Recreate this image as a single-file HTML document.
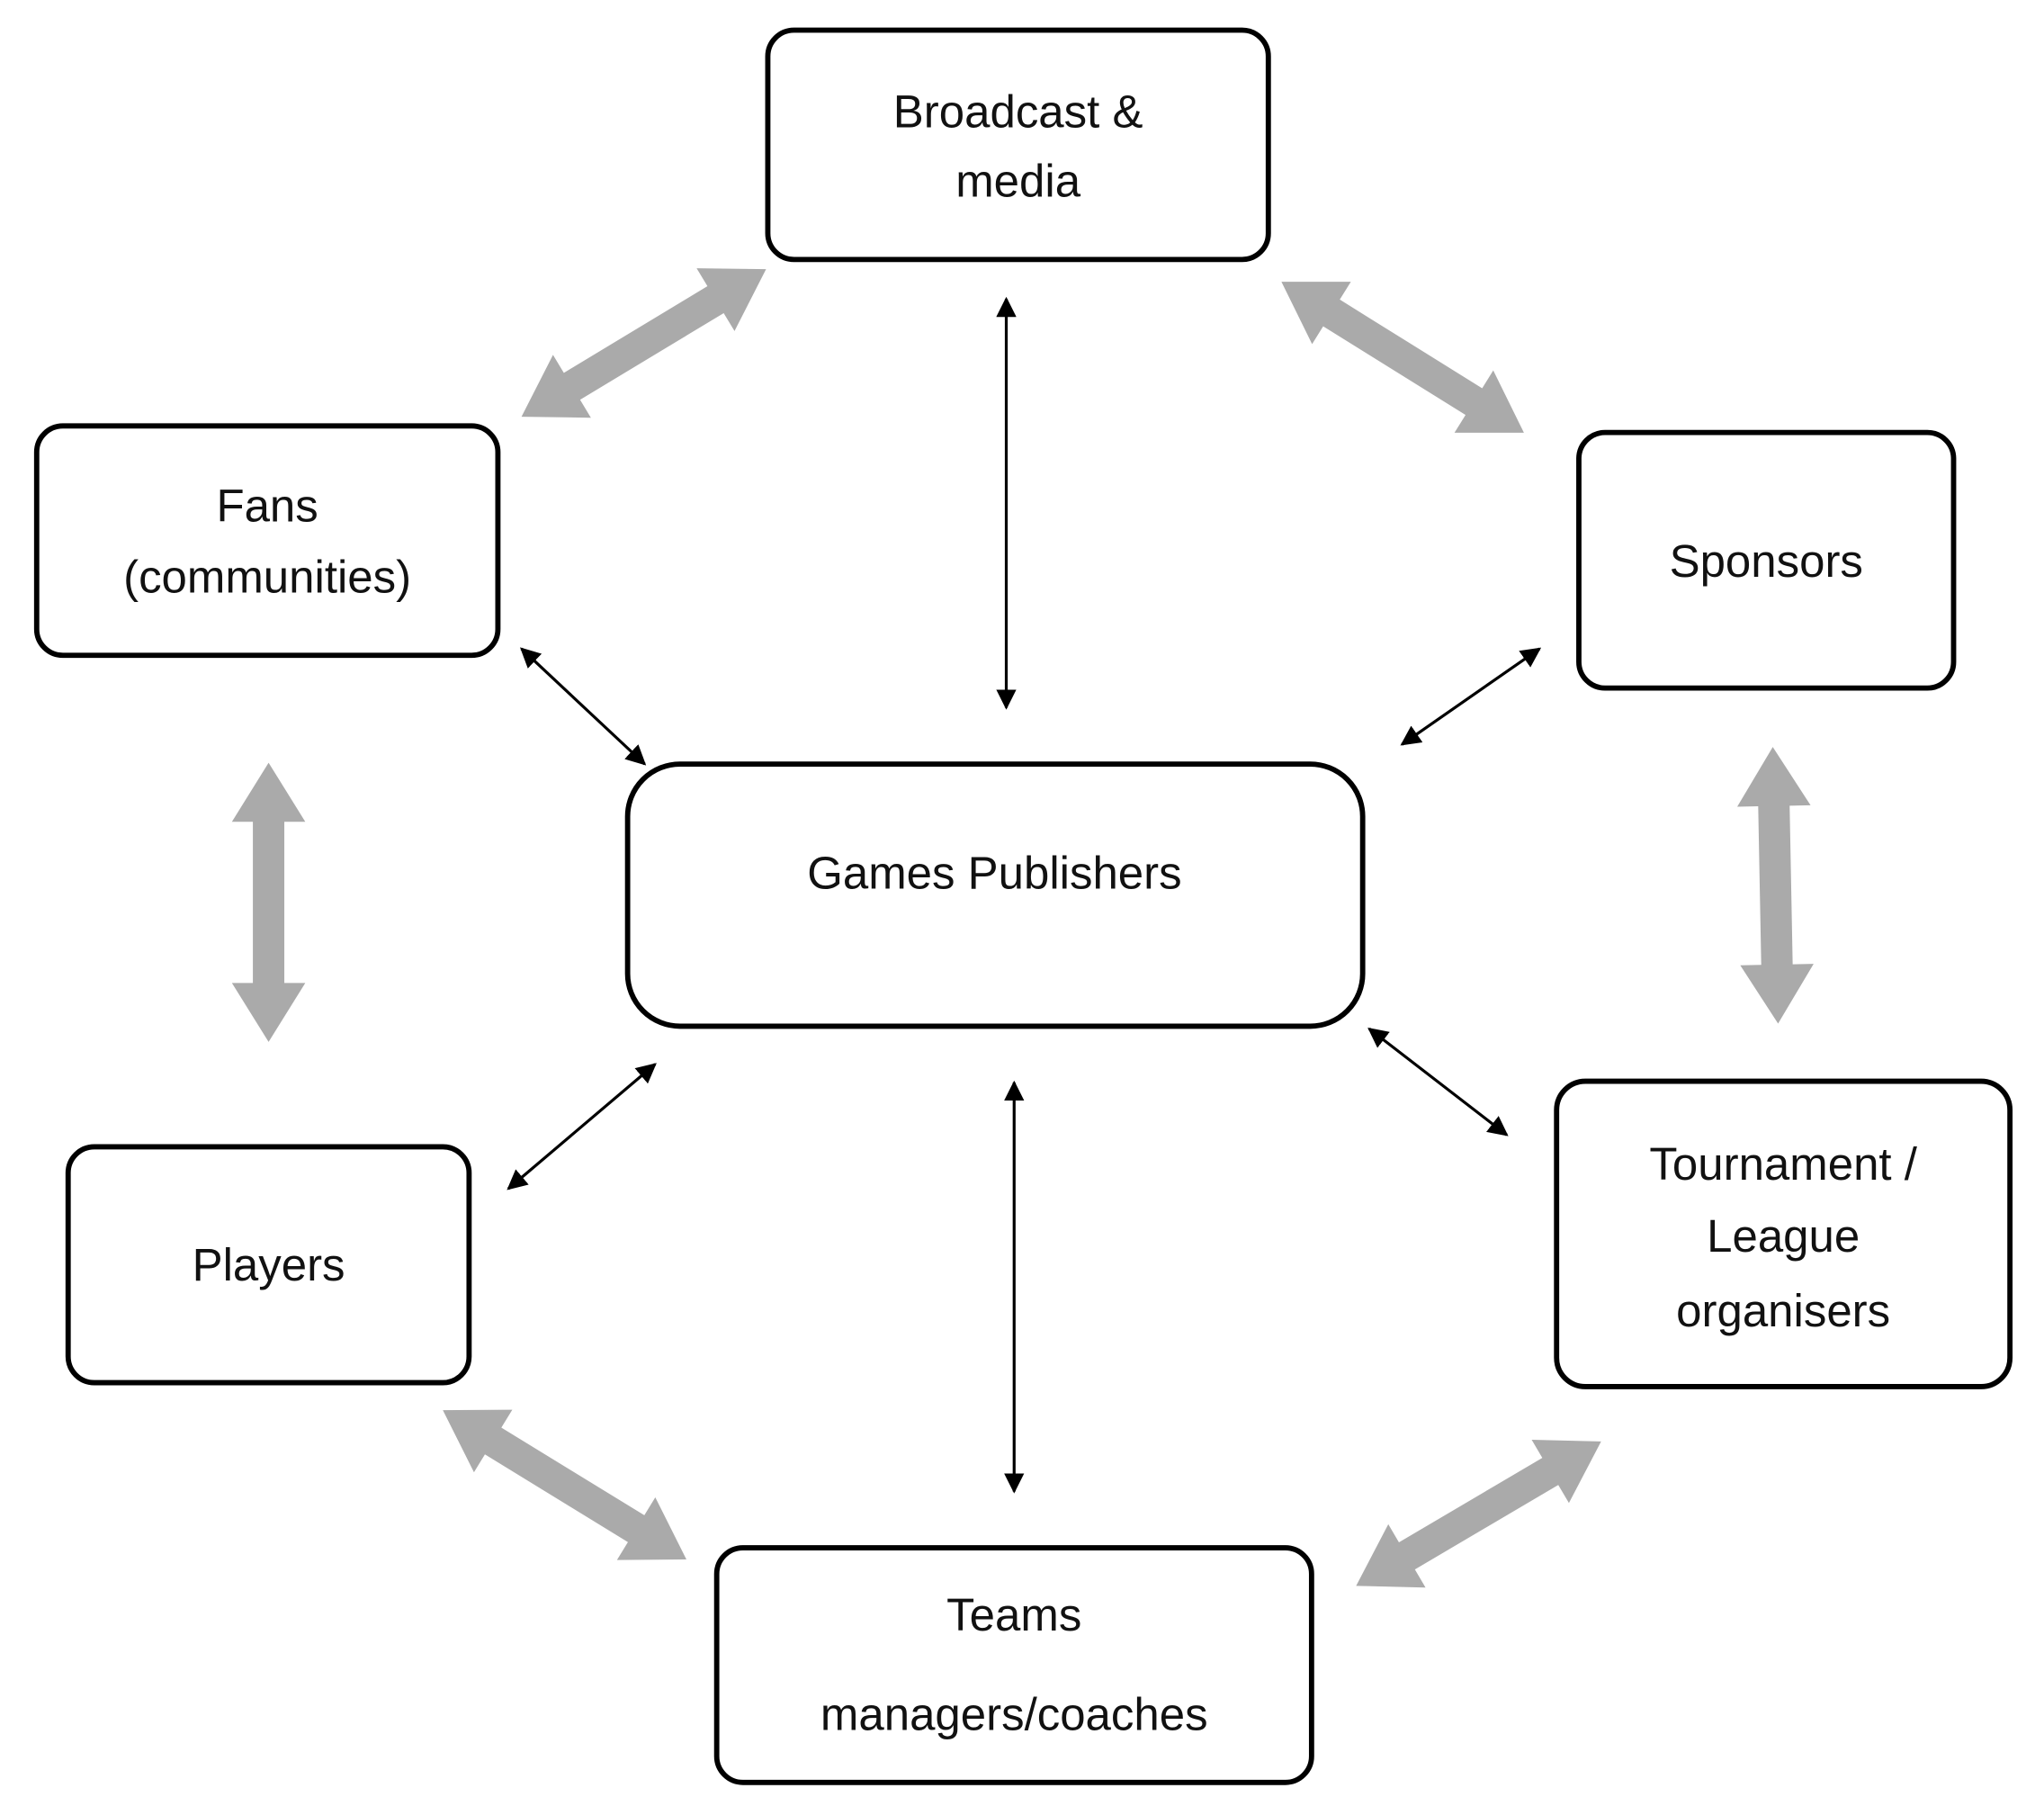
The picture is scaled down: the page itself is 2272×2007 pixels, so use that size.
<!DOCTYPE html>
<html><head><meta charset="utf-8"><style>
html,body{margin:0;padding:0;background:#fff;}
svg{display:block;}
text{font-family:"Liberation Sans",sans-serif;font-size:35px;fill:#111;text-anchor:middle;}
</style></head><body>
<svg width="2272" height="2007" viewBox="0 0 1560 1378" preserveAspectRatio="none" xmlns="http://www.w3.org/2000/svg">
<defs>
<marker id="a" viewBox="0 0 10 10" refX="9" refY="5" markerWidth="7" markerHeight="7" orient="auto-start-reverse" markerUnits="strokeWidth">
<path d="M0,0 L10,5 L0,10 z" fill="#000"/></marker>
</defs>
<g fill="#fff" stroke="#000" stroke-width="4">
<rect x="586" y="23" width="382" height="175" rx="20"/>
<rect x="28" y="325" width="352" height="175" rx="20"/>
<rect x="1205" y="330" width="286" height="195" rx="20"/>
<rect x="479" y="583" width="561" height="200" rx="40"/>
<rect x="52" y="875" width="306" height="180" rx="20"/>
<rect x="1188" y="825" width="346" height="233" rx="22"/>
<rect x="547" y="1181" width="454" height="179" rx="20"/>
</g>
<text x="777" y="97">Broadcast &amp;</text>
<text x="777" y="150">media</text>
<text x="204" y="398">Fans</text>
<text x="204" y="452">(communities)</text>
<text x="1348" y="440">Sponsors</text>
<text x="759" y="678">Games Publishers</text>
<text x="205" y="977">Players</text>
<text x="1361" y="900">Tournament /</text>
<text x="1361" y="955">League</text>
<text x="1361" y="1012">organisers</text>
<text x="774" y="1244">Teams</text>
<text x="774" y="1320">managers/coaches</text>
<g fill="#aaaaaa">
<polygon transform="translate(398,318) rotate(-31.1)" points="0,0 45,-28 45,-12 173,-12 173,-28 218,0 173,28 173,12 45,12 45,28"/>
<polygon transform="translate(978,215) rotate(31.9)" points="0,0 45,-28 45,-12 173,-12 173,-28 218,0 173,28 173,12 45,12 45,28"/>
<polygon transform="translate(205,582) rotate(90)" points="0,0 45,-28 45,-12 168,-12 168,-28 213,0 168,28 168,12 45,12 45,28"/>
<polygon transform="translate(1353,570) rotate(88.9)" points="0,0 45,-28 45,-12 166,-12 166,-28 211,0 166,28 166,12 45,12 45,28"/>
<polygon transform="translate(338,1076) rotate(31.5)" points="0,0 45,-28 45,-12 173,-12 173,-28 218,0 173,28 173,12 45,12 45,28"/>
<polygon transform="translate(1035,1210) rotate(-30.5)" points="0,0 45,-28 45,-12 172,-12 172,-28 217,0 172,28 172,12 45,12 45,28"/>
</g>
<g stroke="#000" stroke-width="2.2" marker-start="url(#a)" marker-end="url(#a)">
<line x1="768" y1="228" x2="768" y2="540"/>
<line x1="398" y1="495" x2="492" y2="583"/>
<line x1="1175" y1="495" x2="1070" y2="568"/>
<line x1="500" y1="812" x2="388" y2="907"/>
<line x1="1045" y1="785" x2="1150" y2="866"/>
<line x1="774" y1="826" x2="774" y2="1138"/>
</g>
</svg>
</body></html>
